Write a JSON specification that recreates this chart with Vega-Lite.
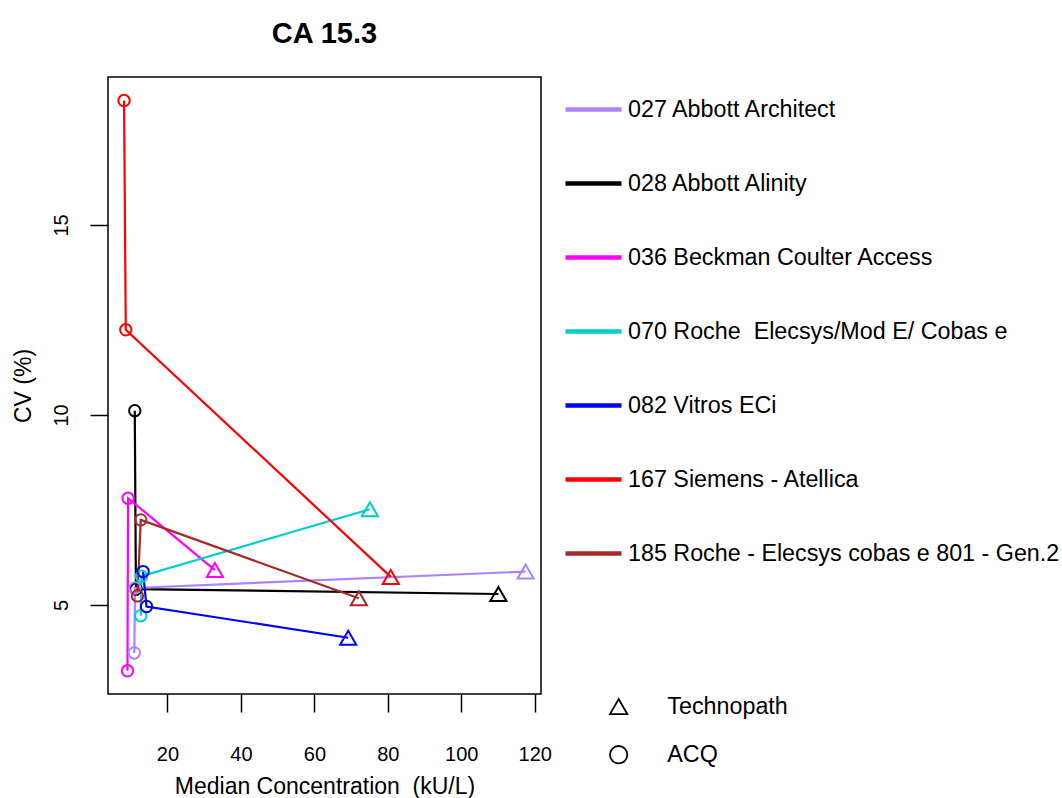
{
  "$schema": "https://vega.github.io/schema/vega-lite/v6.json",
  "width": 433,
  "height": 617,
  "autosize": {"type": "none"},
  "padding": {"left": 108, "top": 77, "right": 521, "bottom": 104},
  "background": "white",
  "title": {"text": "CA 15.3", "font": "Liberation Sans", "fontSize": 29, "fontWeight": "bold", "color": "black", "anchor": "middle", "frame": "group", "baseline": "alphabetic", "offset": 5},
  "config": {
    "view": {"stroke": "black", "strokeWidth": 1.5},
    "axis": {"grid": false, "domain": false, "tickColor": "black", "tickWidth": 1.5, "tickSize": 18, "labelFont": "Liberation Sans", "labelColor": "black", "titleFont": "Liberation Sans", "titleColor": "black", "titleFontWeight": "normal", "titleFontSize": 23, "labelOverlap": false, "labelFlush": false}
  },
  "data": {"values": [
    {"series": "028 Abbott Alinity", "source": "ACQ", "seq": 1, "conc": 11.09, "cv": 10.11},
    {"series": "028 Abbott Alinity", "source": "ACQ", "seq": 2, "conc": 11.4, "cv": 5.42},
    {"series": "028 Abbott Alinity", "source": "Technopath", "seq": 3, "conc": 110.1, "cv": 5.29},
    {"series": "027 Abbott Architect", "source": "ACQ", "seq": 1, "conc": 10.95, "cv": 3.74},
    {"series": "027 Abbott Architect", "source": "ACQ", "seq": 2, "conc": 11.17, "cv": 5.45},
    {"series": "027 Abbott Architect", "source": "Technopath", "seq": 3, "conc": 117.5, "cv": 5.88},
    {"series": "036 Beckman Coulter Access", "source": "ACQ", "seq": 1, "conc": 9.1, "cv": 3.27},
    {"series": "036 Beckman Coulter Access", "source": "ACQ", "seq": 2, "conc": 9.26, "cv": 7.81},
    {"series": "036 Beckman Coulter Access", "source": "Technopath", "seq": 3, "conc": 32.9, "cv": 5.92},
    {"series": "070 Roche \u00a0Elecsys/Mod E/ Cobas e", "source": "ACQ", "seq": 1, "conc": 12.72, "cv": 4.72},
    {"series": "070 Roche \u00a0Elecsys/Mod E/ Cobas e", "source": "ACQ", "seq": 2, "conc": 12.92, "cv": 5.76},
    {"series": "070 Roche \u00a0Elecsys/Mod E/ Cobas e", "source": "Technopath", "seq": 3, "conc": 75.1, "cv": 7.52},
    {"series": "082 Vitros ECi", "source": "ACQ", "seq": 1, "conc": 13.35, "cv": 5.88},
    {"series": "082 Vitros ECi", "source": "ACQ", "seq": 2, "conc": 14.28, "cv": 4.96},
    {"series": "082 Vitros ECi", "source": "Technopath", "seq": 3, "conc": 69.2, "cv": 4.14},
    {"series": "167 Siemens - Atellica", "source": "ACQ", "seq": 1, "conc": 8.17, "cv": 18.27},
    {"series": "167 Siemens - Atellica", "source": "ACQ", "seq": 2, "conc": 8.64, "cv": 12.24},
    {"series": "167 Siemens - Atellica", "source": "Technopath", "seq": 3, "conc": 80.8, "cv": 5.74},
    {"series": "185 Roche - Elecsys cobas e 801 - Gen.2", "source": "ACQ", "seq": 1, "conc": 11.83, "cv": 5.24},
    {"series": "185 Roche - Elecsys cobas e 801 - Gen.2", "source": "ACQ", "seq": 2, "conc": 12.72, "cv": 7.24},
    {"series": "185 Roche - Elecsys cobas e 801 - Gen.2", "source": "Technopath", "seq": 3, "conc": 72.1, "cv": 5.18}
  ]},
  "encoding": {
    "x": {"field": "conc", "type": "quantitative", "scale": {"domain": [3.8, 121.7], "nice": false, "zero": false},
      "axis": {"values": [20, 40, 60, 80, 100, 120], "labelFontSize": 20, "labelBaseline": "alphabetic", "labelPadding": 48, "title": "Median Concentration \u00a0(kU/L)", "titlePadding": 11}},
    "y": {"field": "cv", "type": "quantitative", "scale": {"domain": [2.66, 18.89], "nice": false, "zero": false},
      "axis": {"values": [5, 10, 15], "labelFontSize": 20, "labelAngle": 270, "labelAlign": "center", "labelBaseline": "alphabetic", "labelPadding": 23, "title": "CV (%)", "titlePadding": 16}},
    "color": {"field": "series", "type": "nominal",
      "scale": {"domain": ["027 Abbott Architect", "028 Abbott Alinity", "036 Beckman Coulter Access", "070 Roche \u00a0Elecsys/Mod E/ Cobas e", "082 Vitros ECi", "167 Siemens - Atellica", "185 Roche - Elecsys cobas e 801 - Gen.2"],
        "range": ["#AB82FF", "#000000", "#FF00FF", "#00CDCD", "#0000FF", "#FF0000", "#A52A2A"]},
      "legend": {"orient": "none", "legendX": 455, "legendY": 2, "title": null, "padding": 0, "symbolType": "stroke", "symbolSize": 3136, "symbolStrokeWidth": 4.5, "labelFont": "Liberation Sans", "labelFontSize": 23.3, "labelColor": "black", "labelOffset": 4, "labelLimit": 1000, "rowPadding": 32}}
  },
  "layer": [
    {"mark": {"type": "line", "strokeWidth": 2.2}, "encoding": {"order": {"field": "seq", "type": "quantitative"}}},
    {"mark": {"type": "point", "filled": false, "strokeWidth": 2, "opacity": 1},
     "encoding": {
       "shape": {"field": "source", "type": "nominal", "scale": {"domain": ["Technopath", "ACQ"], "range": ["triangle-up", "circle"]},
         "legend": {"orient": "none", "legendX": 499, "legendY": 618, "title": null, "padding": 0, "symbolStrokeColor": "black", "symbolFillColor": "transparent", "symbolStrokeWidth": 1.8, "symbolSize": 300, "labelFont": "Liberation Sans", "labelFontSize": 23.3, "labelColor": "black", "labelOffset": 37, "rowPadding": 24}},
       "size": {"condition": {"test": "datum.source === 'Technopath'", "value": 260}, "value": 130}
     }}
  ]
}
